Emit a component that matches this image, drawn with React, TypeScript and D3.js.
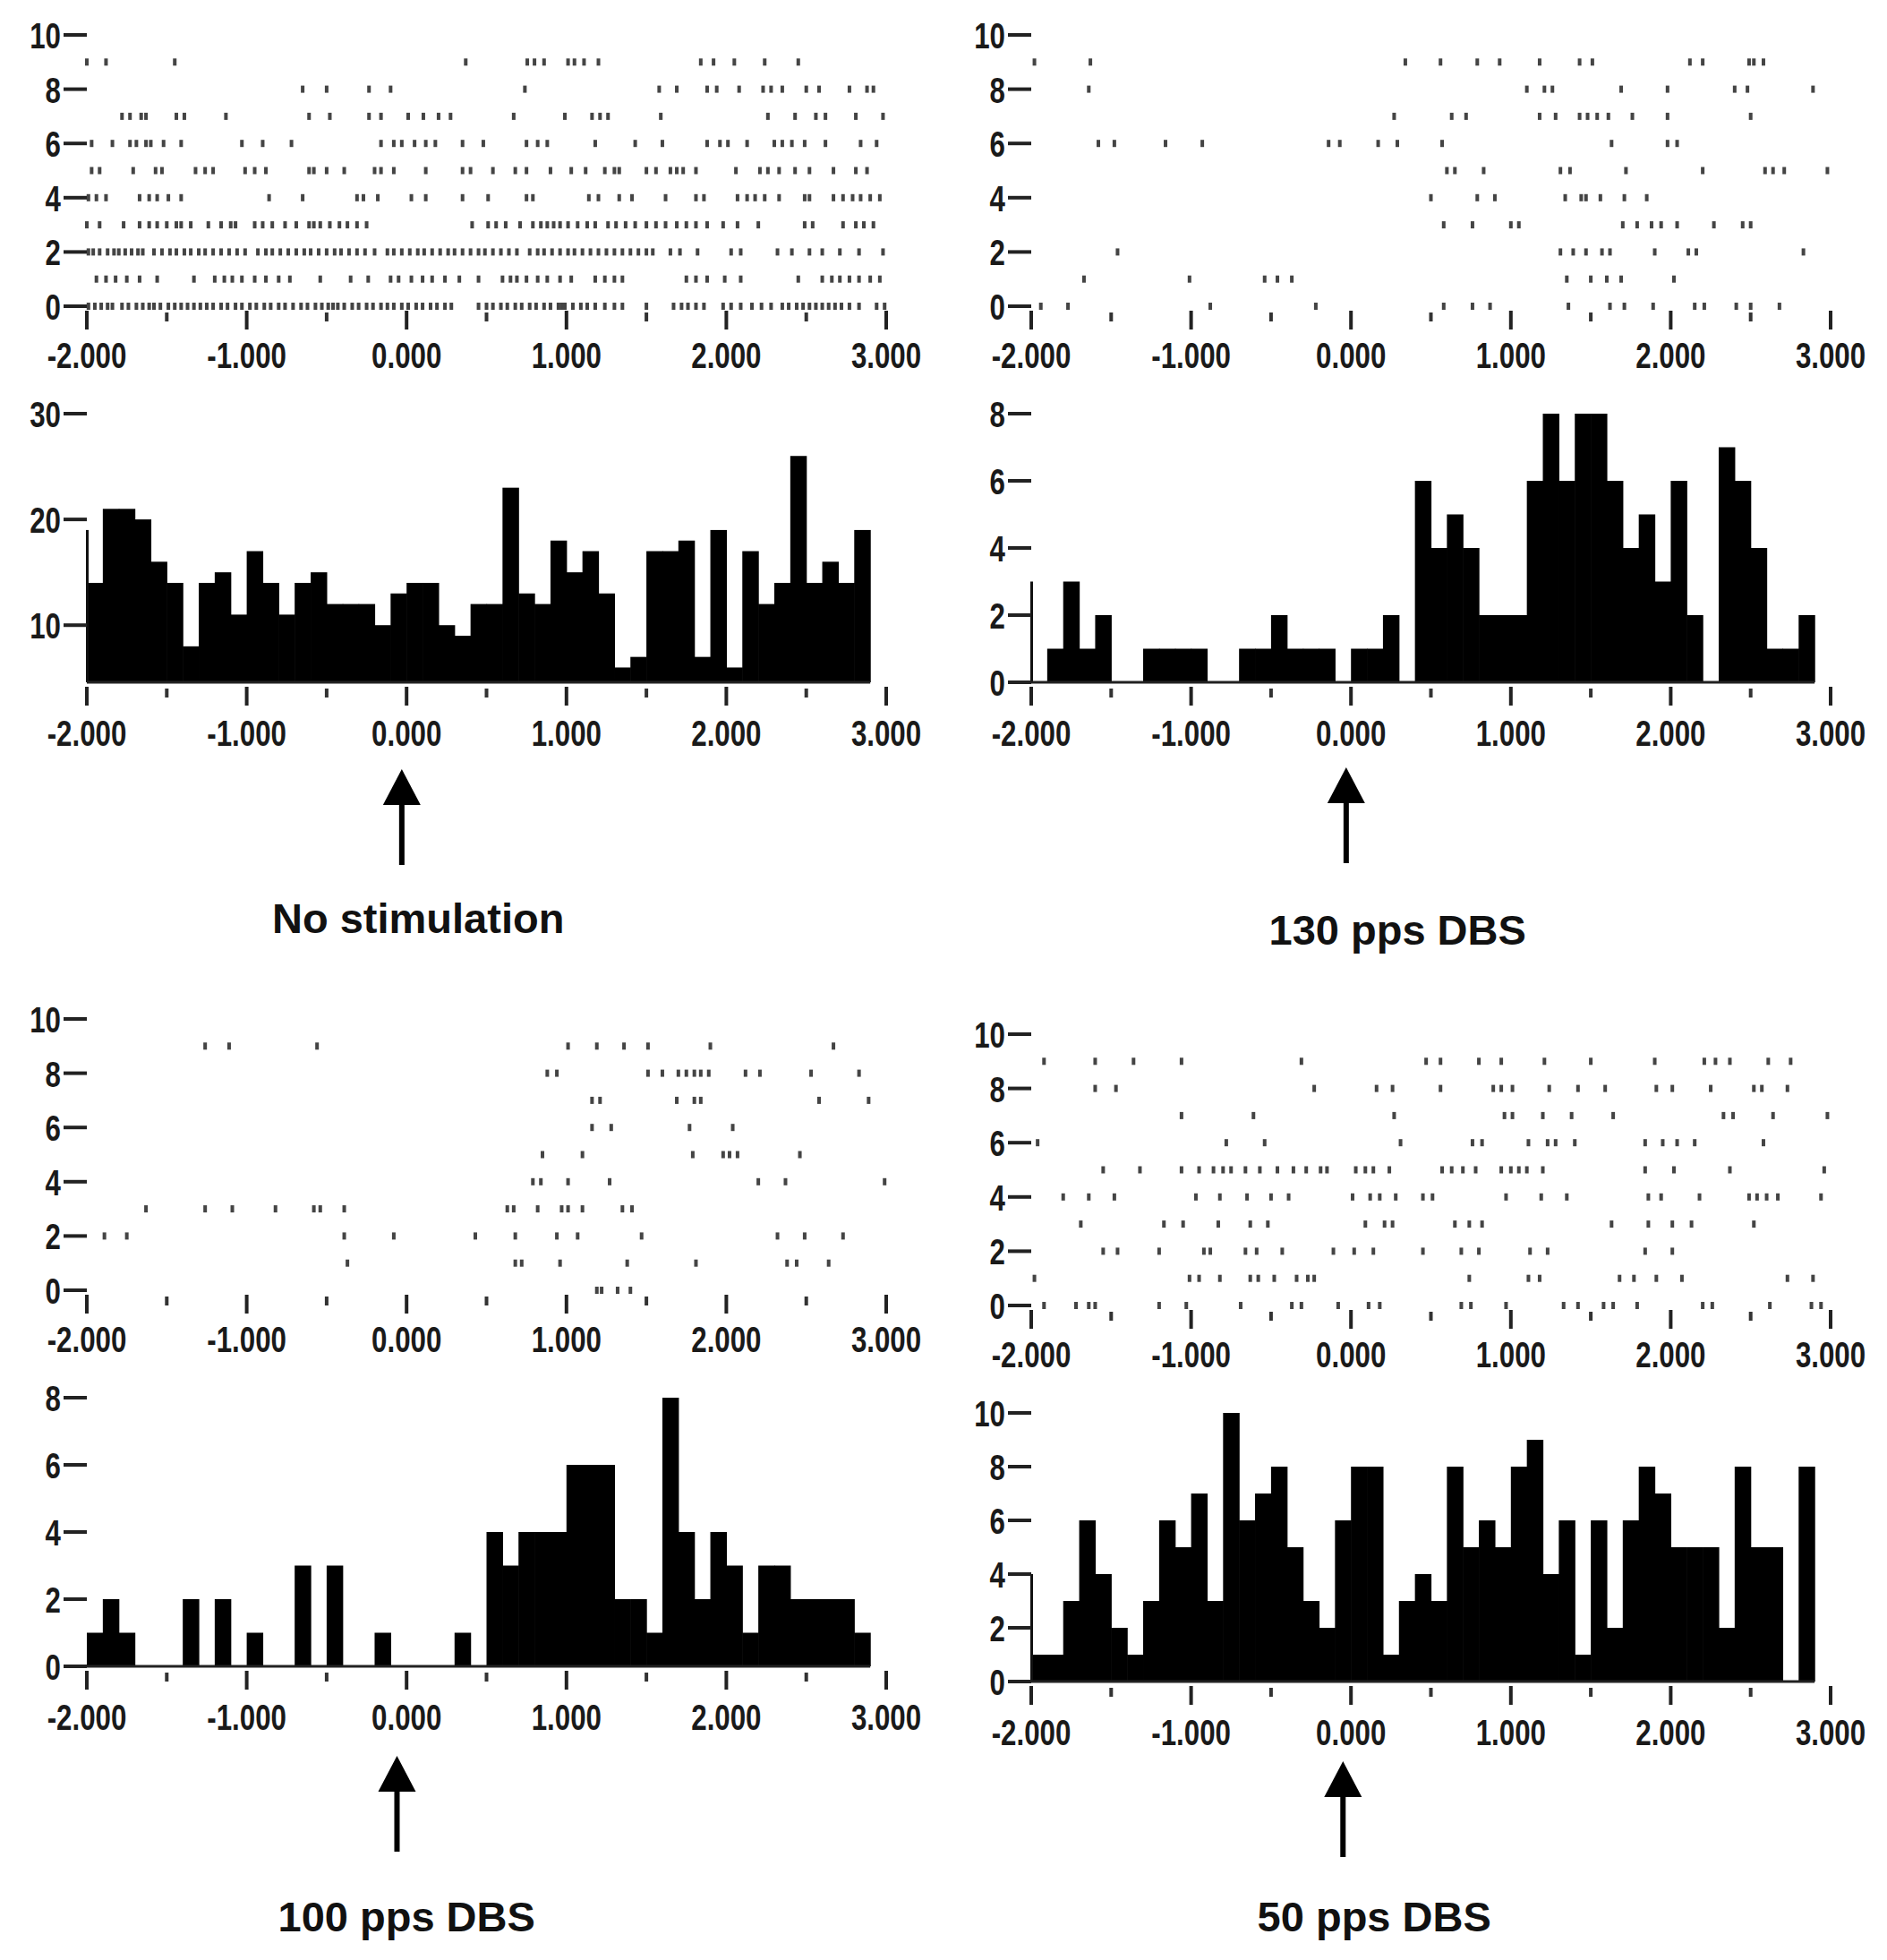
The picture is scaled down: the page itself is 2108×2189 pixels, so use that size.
import * as d3 from 'd3';
import React, { useEffect, useRef } from 'react';

// spike times (s) per trial row, row 0 first
const rasterNoStim: number[][] = [
  [-1.99, -1.95, -1.91, -1.87, -1.84, -1.78, -1.74, -1.69, -1.65, -1.61, -1.58, -1.54, -1.49, -1.45, -1.41, -1.37, -1.33, -1.29, -1.25, -1.21, -1.16, -1.12, -1.07, -1.03, -0.98, -0.94, -0.89, -0.85, -0.8, -0.76, -0.71, -0.66, -0.62, -0.57, -0.53, -0.49, -0.46, -0.43, -0.39, -0.34, -0.3, -0.25, -0.21, -0.16, -0.12, -0.08, -0.03, 0.01, 0.06, 0.1, 0.15, 0.19, 0.24, 0.28, 0.45, 0.5, 0.54, 0.59, 0.63, 0.68, 0.72, 0.77, 0.81, 0.86, 0.9, 0.95, 0.97, 0.99, 1.04, 1.09, 1.13, 1.18, 1.24, 1.3, 1.35, 1.5, 1.67, 1.72, 1.76, 1.81, 1.86, 1.98, 2.03, 2.09, 2.16, 2.22, 2.28, 2.35, 2.39, 2.44, 2.48, 2.52, 2.56, 2.6, 2.64, 2.68, 2.72, 2.77, 2.83, 2.94, 2.99],
  [-1.94, -1.88, -1.82, -1.75, -1.67, -1.56, -1.33, -1.2, -1.14, -1.09, -1.03, -0.95, -0.88, -0.8, -0.73, -0.54, -0.35, -0.24, -0.1, -0.05, 0.03, 0.1, 0.16, 0.24, 0.33, 0.45, 0.6, 0.65, 0.69, 0.75, 0.82, 0.88, 0.96, 1.03, 1.18, 1.24, 1.3, 1.35, 1.75, 1.81, 1.88, 1.99, 2.09, 2.45, 2.6, 2.66, 2.71, 2.77, 2.83, 2.9, 2.96],
  [-1.99, -1.96, -1.92, -1.87, -1.83, -1.8, -1.76, -1.72, -1.68, -1.65, -1.58, -1.53, -1.48, -1.44, -1.39, -1.35, -1.3, -1.26, -1.21, -1.16, -1.11, -1.06, -1.01, -0.93, -0.88, -0.84, -0.79, -0.74, -0.69, -0.64, -0.6, -0.55, -0.5, -0.45, -0.41, -0.36, -0.31, -0.26, -0.2, -0.12, -0.08, -0.03, 0.02, 0.07, 0.11, 0.16, 0.21, 0.26, 0.3, 0.35, 0.4, 0.45, 0.49, 0.54, 0.59, 0.64, 0.69, 0.77, 0.82, 0.86, 0.91, 0.96, 1.01, 1.05, 1.1, 1.15, 1.2, 1.25, 1.3, 1.35, 1.4, 1.45, 1.5, 1.54, 1.65, 1.71, 1.82, 2.03, 2.09, 2.32, 2.41, 2.52, 2.6, 2.71, 2.83, 2.98],
  [-2.0, -1.92, -1.77, -1.67, -1.61, -1.56, -1.5, -1.44, -1.41, -1.35, -1.24, -1.16, -1.1, -1.07, -0.95, -0.9, -0.84, -0.76, -0.69, -0.61, -0.58, -0.54, -0.48, -0.42, -0.37, -0.31, -0.25, 0.41, 0.51, 0.56, 0.62, 0.71, 0.79, 0.84, 0.88, 0.92, 0.96, 1.01, 1.07, 1.13, 1.18, 1.26, 1.31, 1.37, 1.43, 1.5, 1.56, 1.62, 1.69, 1.75, 1.81, 1.88, 1.98, 2.07, 2.2, 2.49, 2.54, 2.73, 2.81, 2.86, 2.92],
  [-1.99, -1.94, -1.88, -1.67, -1.61, -1.56, -1.49, -1.41, -0.86, -0.65, -0.31, -0.27, -0.18, 0.03, 0.12, 0.35, 0.51, 0.75, 0.79, 1.14, 1.2, 1.33, 1.41, 1.62, 1.81, 1.86, 2.07, 2.13, 2.18, 2.24, 2.33, 2.49, 2.52, 2.67, 2.73, 2.79, 2.84, 2.9, 2.96],
  [-1.97, -1.92, -1.71, -1.57, -1.53, -1.32, -1.26, -1.21, -1.01, -0.95, -0.88, -0.61, -0.58, -0.5, -0.39, -0.2, -0.16, -0.08, 0.12, 0.35, 0.4, 0.54, 0.68, 0.75, 0.9, 1.03, 1.12, 1.24, 1.3, 1.33, 1.5, 1.56, 1.65, 1.69, 1.73, 1.81, 2.06, 2.21, 2.26, 2.33, 2.43, 2.52, 2.67, 2.81, 2.88],
  [-1.97, -1.84, -1.73, -1.69, -1.63, -1.6, -1.52, -1.41, -1.03, -0.9, -0.72, -0.16, -0.08, -0.03, 0.05, 0.12, 0.18, 0.35, 0.48, 0.75, 0.82, 0.88, 1.18, 1.43, 1.6, 1.88, 1.96, 2.01, 2.13, 2.3, 2.35, 2.41, 2.49, 2.62, 2.84, 2.94],
  [-1.78, -1.73, -1.66, -1.63, -1.44, -1.39, -1.13, -0.61, -0.48, -0.235, -0.16, 0.01, 0.105, 0.2, 0.275, 0.67, 0.99, 1.16, 1.21, 1.26, 1.59, 2.26, 2.43, 2.56, 2.62, 2.81, 2.98],
  [-0.65, -0.5, -0.235, -0.1, 0.74, 1.58, 1.69, 1.88, 1.94, 2.08, 2.23, 2.28, 2.35, 2.5, 2.58, 2.77, 2.88, 2.92],
  [-2.0, -1.88, -1.45, 0.37, 0.755, 0.8, 0.86, 1.01, 1.05, 1.11, 1.2, 1.84, 1.92, 2.05, 2.24, 2.45],
];

const raster130: number[][] = [
  [-1.94, -1.77, -0.88, -0.22, 0.58, 0.76, 0.87, 1.36, 1.62, 1.71, 1.89, 2.15, 2.21, 2.41, 2.5, 2.68],
  [-1.67, -1.01, -0.54, -0.46, -0.37, 1.35, 1.5, 1.6, 1.69, 2.02],
  [-1.46, 1.31, 1.39, 1.47, 1.57, 1.62, 1.9, 2.11, 2.16, 2.83],
  [0.58, 0.76, 1.0, 1.05, 1.7, 1.79, 1.88, 1.94, 2.04, 2.27, 2.45, 2.5],
  [0.5, 0.79, 0.9, 1.34, 1.44, 1.47, 1.56, 1.71, 1.85],
  [0.6, 0.65, 0.83, 1.31, 1.37, 1.72, 2.2, 2.59, 2.64, 2.71, 2.98],
  [-1.58, -1.48, -1.16, -0.93, -0.14, -0.07, 0.17, 0.29, 0.57, 1.63, 1.98, 2.04],
  [0.27, 0.63, 0.72, 1.18, 1.28, 1.43, 1.48, 1.54, 1.61, 1.76, 1.98, 2.5],
  [-1.64, 1.1, 1.21, 1.26, 1.69, 1.98, 2.4, 2.48, 2.89],
  [-1.98, -1.63, 0.34, 0.56, 0.79, 0.93, 1.18, 1.43, 1.51, 2.12, 2.2, 2.49, 2.52, 2.58],
];

const raster100: number[][] = [
  [1.19, 1.22, 1.32, 1.4],
  [-0.37, 0.68, 0.72, 0.96, 1.38, 1.81, 2.38, 2.44, 2.64],
  [-1.89, -1.75, -0.39, -0.08, 0.43, 0.68, 0.94, 1.07, 1.47, 2.32, 2.49, 2.73],
  [-1.63, -1.26, -1.09, -0.82, -0.58, -0.54, -0.39, 0.63, 0.67, 0.82, 0.97, 1.01, 1.1, 1.35, 1.41],
  [0.79, 0.84, 1.01, 1.27, 2.2, 2.37, 2.99],
  [0.85, 1.1, 1.79, 1.98, 2.02, 2.07, 2.46],
  [1.16, 1.28, 1.77, 2.04],
  [1.16, 1.21, 1.69, 1.8, 1.84, 2.58, 2.89],
  [0.88, 0.94, 1.51, 1.6, 1.7, 1.75, 1.8, 1.84, 1.89, 2.12, 2.21, 2.53, 2.83],
  [-1.26, -1.11, -0.56, 1.01, 1.19, 1.36, 1.51, 1.9, 2.67],
];

const raster50: number[][] = [
  [-1.92, -1.72, -1.64, -1.6, -1.2, -1.03, -0.69, -0.37, -0.31, -0.08, 0.11, 0.18, 0.69, 0.75, 0.97, 1.33, 1.42, 1.58, 1.64, 1.79, 2.2, 2.26, 2.62, 2.88, 2.94],
  [-1.98, -1.01, -0.95, -0.82, -0.63, -0.58, -0.48, -0.34, -0.27, -0.23, 0.74, 1.11, 1.18, 1.68, 1.77, 1.91, 2.07, 2.73, 2.89],
  [-1.55, -1.46, -1.2, -0.92, -0.88, -0.66, -0.59, -0.43, -0.11, 0.02, 0.14, 0.45, 0.69, 0.8, 1.12, 1.23, 1.84, 2.01],
  [-1.69, -1.17, -1.05, -0.83, -0.63, -0.52, 0.09, 0.21, 0.26, 0.65, 0.74, 0.82, 1.63, 1.86, 2.01, 2.13, 2.52],
  [-1.8, -1.64, -1.48, -0.97, -0.82, -0.65, -0.5, -0.39, 0.01, 0.12, 0.18, 0.28, 0.45, 0.51, 0.97, 1.19, 1.35, 1.86, 1.94, 2.18, 2.49, 2.54, 2.6, 2.67, 2.94],
  [-1.55, -1.32, -1.06, -0.95, -0.86, -0.8, -0.75, -0.66, -0.57, -0.46, -0.36, -0.28, -0.19, -0.15, 0.03, 0.09, 0.14, 0.24, 0.57, 0.63, 0.7, 0.78, 0.94, 1.0, 1.05, 1.1, 1.2, 1.84, 2.02, 2.37, 2.96],
  [-1.96, -0.78, -0.54, 0.31, 0.76, 0.82, 1.11, 1.23, 1.28, 1.4, 1.84, 1.95, 2.04, 2.15, 2.58],
  [-1.06, -0.61, 0.27, 0.96, 1.01, 1.2, 1.38, 1.64, 2.33, 2.39, 2.64, 2.98],
  [-1.6, -1.47, -0.23, 0.16, 0.26, 0.56, 0.89, 0.94, 1.01, 1.24, 1.42, 1.59, 1.91, 2.01, 2.25, 2.52, 2.57, 2.73],
  [-1.92, -1.6, -1.36, -1.06, -0.31, 0.47, 0.56, 0.8, 0.94, 1.21, 1.5, 1.9, 2.21, 2.28, 2.37, 2.61, 2.75],
];

// 100 ms bins, left edges
const binStarts = [
  -2.0, -1.9, -1.8, -1.7, -1.6, -1.5, -1.4, -1.3, -1.2, -1.1,
  -1.0, -0.9, -0.8, -0.7, -0.6, -0.5, -0.4, -0.3, -0.2, -0.1,
  0.0, 0.1, 0.2, 0.3, 0.4, 0.5, 0.6, 0.7, 0.8, 0.9,
  1.0, 1.1, 1.2, 1.3, 1.4, 1.5, 1.6, 1.7, 1.8, 1.9,
  2.0, 2.1, 2.2, 2.3, 2.4, 2.5, 2.6, 2.7, 2.8,
];
const binWidth = 0.1;

const histNoStim = [14, 21, 21, 20, 16, 14, 8, 14, 15, 11, 17, 14, 11, 14, 15, 12, 12, 12, 10, 13, 14, 14, 10, 9, 12, 12, 23, 13, 12, 18, 15, 17, 13, 6, 7, 17, 17, 18, 7, 19, 6, 17, 12, 14, 26, 14, 16, 14, 19];
const hist130 = [0, 1, 3, 1, 2, 0, 0, 1, 1, 1, 1, 0, 0, 1, 1, 2, 1, 1, 1, 0, 1, 1, 2, 0, 6, 4, 5, 4, 2, 2, 2, 6, 8, 6, 8, 8, 6, 4, 5, 3, 6, 2, 0, 7, 6, 4, 1, 1, 2];
const hist100 = [1, 2, 1, 0, 0, 0, 2, 0, 2, 0, 1, 0, 0, 3, 0, 3, 0, 0, 1, 0, 0, 0, 0, 1, 0, 4, 3, 4, 4, 4, 6, 6, 6, 2, 2, 1, 8, 4, 2, 4, 3, 1, 3, 3, 2, 2, 2, 2, 1];
const hist50 = [1, 1, 3, 6, 4, 2, 1, 3, 6, 5, 7, 3, 10, 6, 7, 8, 5, 3, 2, 6, 8, 8, 1, 3, 4, 3, 8, 5, 6, 5, 8, 9, 4, 6, 1, 6, 2, 6, 8, 7, 5, 5, 5, 2, 8, 5, 5, 0, 8];

// count of the bin just left of -2 s, seen as a thin edge line
const histEdge = [19, 3, 0, 4];

const titles = ['No stimulation', '130 pps DBS', '100 pps DBS', '50 pps DBS'];
const histDomains: [number, number][] = [[4.6, 30], [0, 8], [0, 8], [0, 10]];
const histTicks = [[10, 20, 30], [0, 2, 4, 6, 8], [0, 2, 4, 6, 8], [0, 2, 4, 6, 8, 10]];
const rasterTicks = [0, 2, 4, 6, 8, 10];
const xMajor = [-2, -1, 0, 1, 2, 3];
const xMajorLabels = ['-2.000', '-1.000', '0.000', '1.000', '2.000', '3.000'];
const xMinor = [-1.5, -0.5, 0.5, 1.5, 2.5];
const arrowAt = [-0.03, -0.03, -0.06, -0.05];

// panel placement on the page
const layout = [
  { dx: 0, dy: 0, titleDx: 13, titleY: 1042, arrowTop: 859 },
  { dx: 1055, dy: 0, titleDx: 52, titleY: 1055, arrowTop: 857 },
  { dx: 0, dy: 1099, titleDx: 0, titleY: 1058, arrowTop: 862 },
  { dx: 1055, dy: 1116, titleDx: 26, titleY: 1041, arrowTop: 851 },
];

const NARROW = "'Liberation Sans Narrow', 'Arial Narrow', 'Liberation Sans', Arial, sans-serif";
const BOLD = "'Liberation Sans', Arial, sans-serif";
const FS = 41;
const charW: Record<string, number> = { '-': 0.273, '.': 0.228 };
const narrowWidth = (s: string) => s.split('').reduce((a, c) => a + (charW[c] ?? 0.456), 0) * FS * 0.93;

const tickLabel = (g: any, x: number, y: number, text: string, anchor: string) => {
  g.append('text')
    .attr('x', x)
    .attr('y', y)
    .attr('text-anchor', anchor)
    .attr('font-family', NARROW)
    .attr('font-weight', 700)
    .attr('font-size', FS)
    .attr('fill', '#1a1a1a')
    .attr('textLength', narrowWidth(text))
    .attr('lengthAdjust', 'spacingAndGlyphs')
    .text(text);
};

const drawPanel = (svg: any, i: number) => {
  const L = layout[i];
  const g = svg.append('g').attr('transform', 'translate(' + L.dx + ',' + L.dy + ')');
  const x = d3.scaleLinear().domain([-2, 3]).range([97, 990]);
  const yR = d3.scaleLinear().domain([0, 10]).range([342, 39]);
  const yH = d3.scaleLinear().domain(histDomains[i]).range([762, 462]);
  const base = yH(histDomains[i][0]);

  // raster spikes
  const spikes: { t: number; row: number }[] = [];
  const rows = [rasterNoStim, raster130, raster100, raster50][i];
  rows.forEach((r, row) => r.forEach((t) => spikes.push({ t, row })));
  g.append('g').selectAll('rect')
    .data(spikes)
    .enter().append('rect')
    .attr('x', (d: any) => x(d.t) - 2)
    .attr('y', (d: any) => yR(d.row) - 4)
    .attr('width', 4)
    .attr('height', 8)
    .attr('fill', '#444');

  // y ticks, raster
  rasterTicks.forEach((v) => {
    g.append('rect').attr('x', 71).attr('y', yR(v) - 2).attr('width', 26).attr('height', 4).attr('fill', '#222');
    tickLabel(g, 68, yR(v) + 15, String(v), 'end');
  });

  // x ticks, raster and histogram
  const xAxis = (y0: number, labelY: number) => {
    xMajor.forEach((v, k) => {
      g.append('rect').attr('x', x(v) - 2).attr('y', y0 + 5).attr('width', 4).attr('height', 21).attr('fill', '#222');
      tickLabel(g, x(v), labelY, xMajorLabels[k], 'middle');
    });
    xMinor.forEach((v) => {
      g.append('rect').attr('x', x(v) - 2).attr('y', y0 + 7).attr('width', 4).attr('height', 10).attr('fill', '#333');
    });
  };
  xAxis(yR(0), yR(0) + 69);

  // histogram
  const bars = binStarts.map((t, k) => ({ t, v: [histNoStim, hist130, hist100, hist50][i][k] }));
  g.append('g').selectAll('rect')
    .data(bars.filter((d) => d.v > 0))
    .enter().append('rect')
    .attr('x', (d: any) => x(d.t))
    .attr('y', (d: any) => yH(d.v))
    .attr('width', (d: any) => x(d.t + binWidth) - x(d.t) + 0.6)
    .attr('height', (d: any) => base - yH(d.v))
    .attr('fill', '#000');

  if (histEdge[i] > histDomains[i][0]) {
    g.append('rect').attr('x', x(-2) - 1).attr('y', yH(histEdge[i])).attr('width', 3)
      .attr('height', base - yH(histEdge[i])).attr('fill', '#111');
  }

  g.append('line')
    .attr('x1', x(-2)).attr('x2', x(2.9))
    .attr('y1', base).attr('y2', base)
    .attr('stroke', '#222').attr('stroke-width', 3);

  histTicks[i].forEach((v) => {
    g.append('rect').attr('x', 71).attr('y', yH(v) - 2).attr('width', 26).attr('height', 4).attr('fill', '#222');
    tickLabel(g, 68, yH(v) + 15, String(v), 'end');
  });
  xAxis(base, base + 71);

  // stimulus arrow
  const ax = x(arrowAt[i]);
  const top = L.arrowTop;
  g.append('path')
    .attr('d', 'M' + ax + ',' + top + 'L' + (ax + 21) + ',' + (top + 40) + 'L' + (ax - 21) + ',' + (top + 40) + 'Z')
    .attr('fill', '#000');
  g.append('rect').attr('x', ax - 3).attr('y', top + 38).attr('width', 6).attr('height', 69).attr('fill', '#000');

  g.append('text')
    .attr('x', x(0) + L.titleDx)
    .attr('y', L.titleY)
    .attr('text-anchor', 'middle')
    .attr('font-family', BOLD)
    .attr('font-weight', 700)
    .attr('font-size', 47)
    .attr('fill', '#111')
    .text(titles[i]);
};

export default function App() {
  const ref = useRef<SVGSVGElement>(null);

  useEffect(() => {
    const svg = d3.select(ref.current);
    svg.selectAll('*').remove();
    [0, 1, 2, 3].forEach((i) => drawPanel(svg, i));
  }, []);

  return (
    <svg
      ref={ref}
      width={2108}
      height={2189}
      style={{ position: 'absolute', left: 0, top: 0, background: '#fff' }}
    />
  );
}
